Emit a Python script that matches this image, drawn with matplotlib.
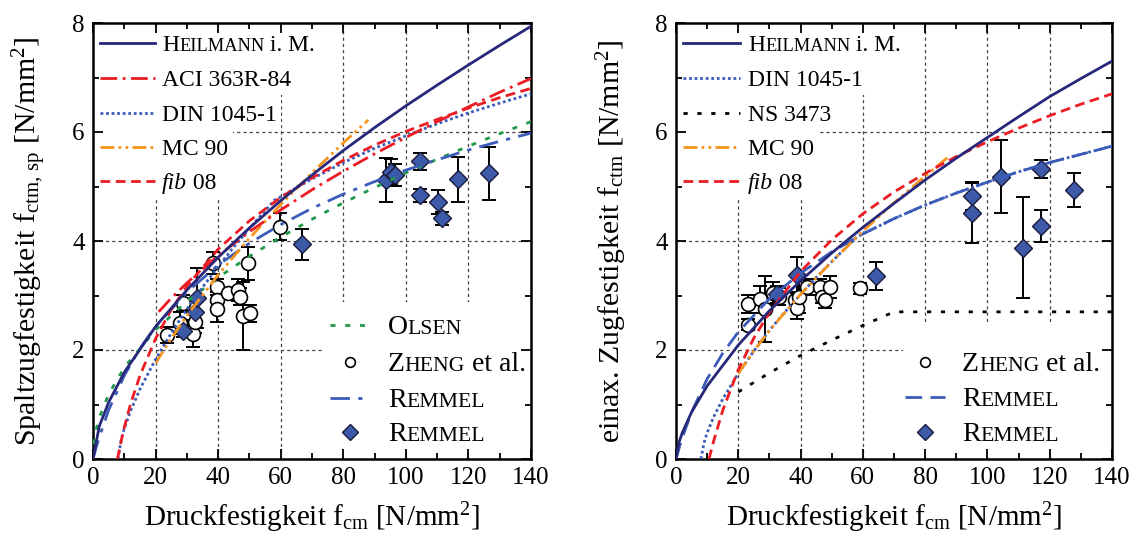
import matplotlib
matplotlib.use('Agg')
import matplotlib.pyplot as plt
from matplotlib import transforms as mtransforms
from matplotlib.lines import Line2D
from matplotlib.patches import Rectangle

plt.rcParams['font.family'] = ['Liberation Serif', 'DejaVu Serif']
plt.rcParams['mathtext.fontset'] = 'custom'
plt.rcParams['mathtext.rm'] = 'Liberation Serif'
plt.rcParams['mathtext.it'] = 'Liberation Serif:italic'
plt.rcParams['mathtext.bf'] = 'Liberation Serif:bold'

# ================= DATA: left panel (Spaltzugfestigkeit) =================
heil_sp_x = [0, 2, 5, 10, 20, 30, 40, 50, 60, 70, 80, 90, 100, 110, 120, 130, 140]
heil_sp_y = [0, 0.60, 1.04, 1.59, 2.43, 3.10, 3.70, 4.24, 4.74, 5.21, 5.66, 6.08, 6.48, 6.86, 7.23, 7.59, 7.94]
aci_x = [21, 25, 30, 40, 50, 60, 70, 80, 90, 100, 110, 120, 130, 140]
aci_y = [2.70, 2.95, 3.23, 3.73, 4.17, 4.57, 4.94, 5.28, 5.60, 5.90, 6.19, 6.46, 6.73, 6.98]
din_sp_x = [8, 9, 10, 12, 15, 20, 25, 30, 35, 40, 45, 50, 58, 60, 70, 80, 90, 100, 110, 120, 130, 140]
din_sp_y = [0, 0.35, 0.56, 0.88, 1.28, 1.83, 2.31, 2.75, 3.15, 3.53, 3.89, 4.23, 4.75, 4.81, 5.14, 5.44, 5.70, 5.93, 6.15, 6.35, 6.53, 6.70]
mc90_sp_x = [20, 25, 30, 40, 50, 60, 70, 80, 88]
mc90_sp_y = [1.76, 2.21, 2.63, 3.38, 4.05, 4.67, 5.25, 5.80, 6.22]
fib_sp_x = [7.8, 8, 9, 10, 12, 15, 20, 25, 30, 40, 50, 60, 70, 80, 90, 100, 110, 120, 130, 140]
fib_sp_y = [0, 0.05, 0.33, 0.58, 1.01, 1.53, 2.21, 2.74, 3.17, 3.85, 4.37, 4.80, 5.16, 5.48, 5.76, 6.01, 6.23, 6.44, 6.63, 6.80]
olsen_x = [0, 0.5, 1, 2, 5, 10, 20, 30, 40, 50, 60, 70, 80, 90, 100, 110, 120, 130, 140]
olsen_y = [0, 0.38, 0.54, 0.76, 1.19, 1.68, 2.37, 2.89, 3.33, 3.72, 4.07, 4.40, 4.70, 4.98, 5.25, 5.50, 5.74, 5.97, 6.19]
remmel_sp_x = [0, 1, 2, 5, 10, 15, 20, 30, 40, 50, 60, 70, 80, 90, 100, 110, 120, 130, 140]
remmel_sp_y = [0, 0.21, 0.40, 0.90, 1.53, 2.03, 2.43, 3.06, 3.56, 3.96, 4.30, 4.60, 4.86, 5.09, 5.30, 5.49, 5.67, 5.83, 5.98]

zheng_sp_x = [23.5, 27.8, 28.9, 32.0, 32.6, 38.5, 39.5, 39.5, 39.5, 43.0, 46.5, 47.0, 48.0, 49.6, 50.2, 59.7]
zheng_sp_y = [2.28, 2.50, 2.86, 2.30, 2.52, 3.60, 3.16, 2.92, 2.76, 3.05, 3.10, 2.98, 2.62, 3.59, 2.67, 4.26]
zheng_sp_e = [0.15, 0.20, 0.15, 0.25, 0.20, 0.20, 0.15, 0.15, 0.25, 0.08, 0.20, 0.15, 0.62, 0.30, 0.15, 0.25]
rem_sp_x = [28.9, 32.6, 33.1, 66.7, 93.6, 95.4, 96.5, 104.5, 104.5, 110.3, 111.4, 116.7, 126.6]
rem_sp_y = [2.34, 2.70, 2.95, 3.94, 5.12, 5.27, 5.21, 5.46, 4.84, 4.72, 4.42, 5.13, 5.24]
rem_sp_e = [0.10, 0.20, 0.55, 0.28, 0.41, 0.23, 0.20, 0.15, 0.12, 0.22, 0.12, 0.41, 0.49]

# ================= DATA: right panel (einax. Zugfestigkeit) =================
heil_ax_x = [0, 1, 2, 5, 10, 20, 30, 40, 50, 60, 70, 80, 90, 100, 110, 120, 130, 140]
heil_ax_y = [0, 0.31, 0.48, 0.86, 1.34, 2.09, 2.72, 3.27, 3.78, 4.25, 4.69, 5.12, 5.52, 5.90, 6.28, 6.65, 6.98, 7.30]
din_ax_x = [8, 9, 10, 12, 15, 20, 25, 30, 35, 40, 45, 50, 58, 60, 70, 80, 90, 100, 110, 120, 130, 140]
din_ax_y = [0, 0.30, 0.48, 0.76, 1.10, 1.57, 1.98, 2.36, 2.70, 3.02, 3.33, 3.62, 4.07, 4.13, 4.41, 4.66, 4.88, 5.08, 5.27, 5.44, 5.59, 5.74]
ns_x = [20, 30, 40, 50, 60, 70, 140]
ns_y = [1.23, 1.58, 1.90, 2.18, 2.45, 2.70, 2.70]
mc90_ax_x = [20, 25, 30, 40, 50, 60, 70, 80, 88]
mc90_ax_y = [1.57, 1.98, 2.36, 3.02, 3.62, 4.18, 4.70, 5.19, 5.57]
fib_ax_x = [10.6, 11, 12, 15, 20, 25, 30, 40, 50, 60, 70, 80, 90, 100, 110, 120, 130, 140]
fib_ax_y = [0, 0.09, 0.31, 0.89, 1.64, 2.22, 2.69, 3.44, 4.02, 4.50, 4.90, 5.24, 5.55, 5.82, 6.07, 6.30, 6.51, 6.70]
remmel_ax_x = [0, 1, 2, 5, 10, 15, 20, 30, 40, 50, 60, 70, 80, 90, 100, 110, 120, 130, 140]
remmel_ax_y = [0, 0.20, 0.39, 0.86, 1.47, 1.94, 2.33, 2.94, 3.41, 3.80, 4.13, 4.41, 4.66, 4.88, 5.08, 5.27, 5.44, 5.59, 5.74]

zheng_ax_x = [23.1, 23.1, 27.0, 28.6, 31.3, 33.0, 38.3, 38.8, 39.5, 42.0, 46.3, 46.8, 47.9, 49.5, 59.2]
zheng_ax_y = [2.84, 2.46, 2.93, 2.75, 3.04, 2.98, 2.92, 2.77, 2.98, 3.16, 3.16, 2.98, 2.92, 3.16, 3.13]
zheng_ax_e = [0.17, 0.10, 0.25, 0.60, 0.20, 0.15, 0.15, 0.20, 0.30, 0.15, 0.15, 0.12, 0.15, 0.20, 0.10]
rem_ax_x = [32.4, 38.8, 64.3, 95.1, 95.1, 104.4, 111.5, 117.3, 117.3, 127.8]
rem_ax_y = [3.02, 3.38, 3.36, 4.83, 4.52, 5.18, 3.88, 5.32, 4.28, 4.94]
rem_ax_e = [0.15, 0.33, 0.25, 0.26, 0.55, 0.67, 0.93, 0.16, 0.29, 0.31]

x_ticks = [0, 20, 40, 60, 80, 100, 120, 140]
y_ticks = [0, 2, 4, 6, 8]

# ================= STYLES =================
NAVY = '#27287a'
RED = '#ec1c24'
BLUE = '#3b5cb8'
ORANGE = '#f7941d'
GREEN = '#1f9a4a'
DIAM = '#3d5aa8'
LW = 2.0

sty = {
    'heil': dict(color=NAVY, lw=LW, ls='-'),
    'aci': dict(color=RED, lw=LW, dashes=(6, 2, 1, 2)),
    'din': dict(color=BLUE, lw=LW, dashes=(1, 1)),
    'mc90': dict(color=ORANGE, lw=LW, dashes=(5, 1.5, 1, 1.5, 1, 1.5)),
    'fib': dict(color=RED, lw=LW, dashes=(3.5, 2)),
    'olsen': dict(color=GREEN, lw=LW, dashes=(1.8, 3.5)),
    'rem_sp': dict(color=BLUE, lw=LW, dashes=(7, 3, 1.5, 3)),
    'rem_ax': dict(color=BLUE, lw=LW, dashes=(6, 3)),
    'ns': dict(color='black', lw=LW, dashes=(1.5, 3.5)),
}
circ = dict(marker='o', ms=10, mfc='white', mec='black', mew=1.2, ls='none')
diam = dict(marker='D', ms=9.5, mfc=DIAM, mec='#1a1a3a', mew=1.0, ls='none')

fig = plt.figure(figsize=(11.34, 5.39), dpi=100)
ax1 = fig.add_axes([93 / 1134, 80 / 539, 438 / 1134, 436 / 539])
ax2 = fig.add_axes([676 / 1134, 80 / 539, 436 / 1134, 436 / 539])

TICKFS = 18
XLABFS = 21
YLABFS = 21.5
LEGFS = 17
LEGFS2 = 20

for ax in (ax1, ax2):
    ax.set_xlim(0, 140)
    ax.set_ylim(0, 8)
    ax.set_xticks(x_ticks)
    ax.set_yticks(y_ticks)
    ax.set_xticks(range(10, 140, 20), minor=True)
    ax.set_yticks([1, 3, 5, 7], minor=True)
    ax.tick_params(which='both', direction='in', top=True, right=True, labelsize=TICKFS, width=1.3)
    ax.tick_params(which='major', length=7, pad=6)
    ax.tick_params(which='minor', length=4)
    for s in ax.spines.values():
        s.set_linewidth(1.8)
    for gx in x_ticks[1:-1]:
        ax.axvline(gx, color='#444444', lw=0.9, dashes=(2.5, 2.5), zorder=1)
    for gy in y_ticks[1:-1]:
        ax.axhline(gy, color='#444444', lw=0.9, dashes=(2.5, 2.5), zorder=1)
    ax.set_xlabel(r'Druckfestigkeit f$_{\mathrm{cm}}$ [N/mm$^{2}$]', fontsize=XLABFS)
    ax.xaxis.label.set_va('center')
    ax.xaxis.set_label_coords(0.5, -0.135)

ax1.set_ylabel(r'Spaltzugfestigkeit f$_{\mathrm{ctm,\,sp}}$ [N/mm$^{2}$]', fontsize=YLABFS)
ax1.yaxis.label.set_va('center')
ax1.yaxis.set_label_coords(-0.145, 0.5)
ax2.set_ylabel(r'einax. Zugfestigkeit f$_{\mathrm{ctm}}$ [N/mm$^{2}$]', fontsize=YLABFS)
ax2.yaxis.label.set_va('center')
ax2.yaxis.set_label_coords(-0.147, 0.5)

# ---- left panel drawing ----
ax1.errorbar(zheng_sp_x, zheng_sp_y, yerr=zheng_sp_e, fmt='none', ecolor='black', elinewidth=1.4, capsize=5, capthick=1.4, zorder=2.5)
ax1.errorbar(rem_sp_x, rem_sp_y, yerr=rem_sp_e, fmt='none', ecolor='black', elinewidth=1.4, capsize=5, capthick=1.4, zorder=2.5)
ax1.plot(zheng_sp_x, zheng_sp_y, zorder=3, **circ)
ax1.plot(rem_sp_x, rem_sp_y, zorder=3, **diam)
ax1.plot(olsen_x, olsen_y, zorder=4, **sty['olsen'])
ax1.plot(remmel_sp_x, remmel_sp_y, zorder=4, **sty['rem_sp'])
ax1.plot(mc90_sp_x, mc90_sp_y, zorder=4, **sty['mc90'])
ax1.plot(din_sp_x, din_sp_y, zorder=4, **sty['din'])
ax1.plot(aci_x, aci_y, zorder=4, **sty['aci'])
ax1.plot(fib_sp_x, fib_sp_y, zorder=4, **sty['fib'])
ax1.plot(heil_sp_x, heil_sp_y, zorder=4, **sty['heil'])

# ---- right panel drawing ----
ax2.errorbar(zheng_ax_x, zheng_ax_y, yerr=zheng_ax_e, fmt='none', ecolor='black', elinewidth=1.4, capsize=5, capthick=1.4, zorder=2.5)
ax2.errorbar(rem_ax_x, rem_ax_y, yerr=rem_ax_e, fmt='none', ecolor='black', elinewidth=1.4, capsize=5, capthick=1.4, zorder=2.5)
ax2.plot(zheng_ax_x, zheng_ax_y, zorder=3, **circ)
ax2.plot(rem_ax_x, rem_ax_y, zorder=3, **diam)
ax2.plot(ns_x, ns_y, zorder=4, **sty['ns'])
ax2.plot(remmel_ax_x, remmel_ax_y, zorder=4, **sty['rem_ax'])
ax2.plot(din_ax_x, din_ax_y, zorder=4, **sty['din'])
ax2.plot(mc90_ax_x, mc90_ax_y, zorder=4, **sty['mc90'])
ax2.plot(fib_ax_x, fib_ax_y, zorder=4, **sty['fib'])
ax2.plot(heil_ax_x, heil_ax_y, zorder=4, **sty['heil'])

# ================= manual legends =================
fig.canvas.draw()
renderer = fig.canvas.get_renderer()
IDT = mtransforms.IdentityTransform()


def sc_text(ax, x, y, parts, fs):
    xd, yd = ax.transAxes.transform((x, y))
    yd -= 0.33 * fs * fig.dpi / 72.0
    for s, scale, style in parts:
        t = ax.text(xd, yd, s, transform=IDT, fontsize=fs * scale, fontstyle=style,
                    ha='left', va='baseline', zorder=6)
        xd = t.get_window_extent(renderer).x1
    return ax.transAxes.inverted().transform((xd, yd))[0]


def entry(ax, y, kind, style, parts, x0, x1, xt, bg=True, fs=LEGFS):
    if kind == 'line':
        ax.add_line(Line2D([x0, x1], [y, y], transform=ax.transAxes, clip_on=False, zorder=6, **style))
    else:
        ax.add_line(Line2D([(x0 + x1) / 2], [y], transform=ax.transAxes, clip_on=False, zorder=6, **style))
    xe = sc_text(ax, xt, y, parts, fs)
    if bg:
        ax.add_patch(Rectangle((0, y - 0.04), xe + 0.01, 0.08, transform=ax.transAxes,
                               facecolor='white', edgecolor='none', zorder=1.5))


N = 'normal'
I = 'italic'
SC = 0.78
heil_lbl = [('H', 1, N), ('EILMANN', SC, N), (' i. M.', 1, N)]
fib_lbl = [('fib', 1, I), (' 08', 1, N)]
rem_lbl = [('R', 1, N), ('EMMEL', SC, N)]
zheng_lbl = [('Z', 1, N), ('HENG', SC, N), (' et al.', 1, N)]
olsen_lbl = [('O', 1, N), ('LSEN', SC, N)]

leg_circ = dict(marker='o', ms=7, mfc='white', mec='black', mew=1.2, ls='none')
leg_diam = dict(marker='D', ms=8.5, mfc=DIAM, mec='#1a1a3a', mew=1.0, ls='none')

rows = [0.954, 0.874, 0.794, 0.716, 0.638]
# left top legend
lx0, lx1, lxt = 0.016, 0.142, 0.158
entry(ax1, rows[0], 'line', sty['heil'], heil_lbl, lx0, lx1, lxt)
entry(ax1, rows[1], 'line', sty['aci'], [('ACI 363R-84', 1, N)], lx0, lx1, lxt)
entry(ax1, rows[2], 'line', sty['din'], [('DIN 1045-1', 1, N)], lx0, lx1, lxt)
entry(ax1, rows[3], 'line', sty['mc90'], [('MC 90', 1, N)], lx0, lx1, lxt)
entry(ax1, rows[4], 'line', sty['fib'], fib_lbl, lx0, lx1, lxt)

# right top legend
rx0, rx1, rxt = 0.016, 0.147, 0.165
entry(ax2, rows[0], 'line', sty['heil'], heil_lbl, rx0, rx1, rxt)
entry(ax2, rows[1], 'line', sty['din'], [('DIN 1045-1', 1, N)], rx0, rx1, rxt)
entry(ax2, rows[2], 'line', sty['ns'], [('NS 3473', 1, N)], rx0, rx1, rxt)
entry(ax2, rows[3], 'line', sty['mc90'], [('MC 90', 1, N)], rx0, rx1, rxt)
entry(ax2, rows[4], 'line', sty['fib'], fib_lbl, rx0, rx1, rxt)

# left bottom legend
ax1.add_patch(Rectangle((0.525, 0.004), 0.47, 0.356, transform=ax1.transAxes,
                        facecolor='white', edgecolor='none', zorder=1.5))
bx0, bx1, bxt = 0.541, 0.632, 0.673
entry(ax1, 0.307, 'line', sty['olsen'], olsen_lbl, bx0, bx1, bxt, bg=False, fs=LEGFS2)
entry(ax1, 0.222, 'mark', leg_circ, zheng_lbl, bx0, bx1, bxt, bg=False, fs=LEGFS2)
entry(ax1, 0.140, 'line', sty['rem_sp'], rem_lbl, bx0, bx1, bxt, bg=False, fs=LEGFS2)
entry(ax1, 0.062, 'mark', leg_diam, rem_lbl, bx0, bx1, bxt, bg=False, fs=LEGFS2)

# right bottom legend
ax2.add_patch(Rectangle((0.521, 0.004), 0.475, 0.303, transform=ax2.transAxes,
                        facecolor='white', edgecolor='none', zorder=1.5))
cx0, cx1, cxt = 0.525, 0.617, 0.656
entry(ax2, 0.222, 'mark', leg_circ, zheng_lbl, cx0, cx1, cxt, bg=False, fs=LEGFS2)
entry(ax2, 0.142, 'line', sty['rem_ax'], rem_lbl, cx0, cx1, cxt, bg=False, fs=LEGFS2)
entry(ax2, 0.062, 'mark', leg_diam, rem_lbl, cx0, cx1, cxt, bg=False, fs=LEGFS2)

fig.savefig('out.png', dpi=100)
